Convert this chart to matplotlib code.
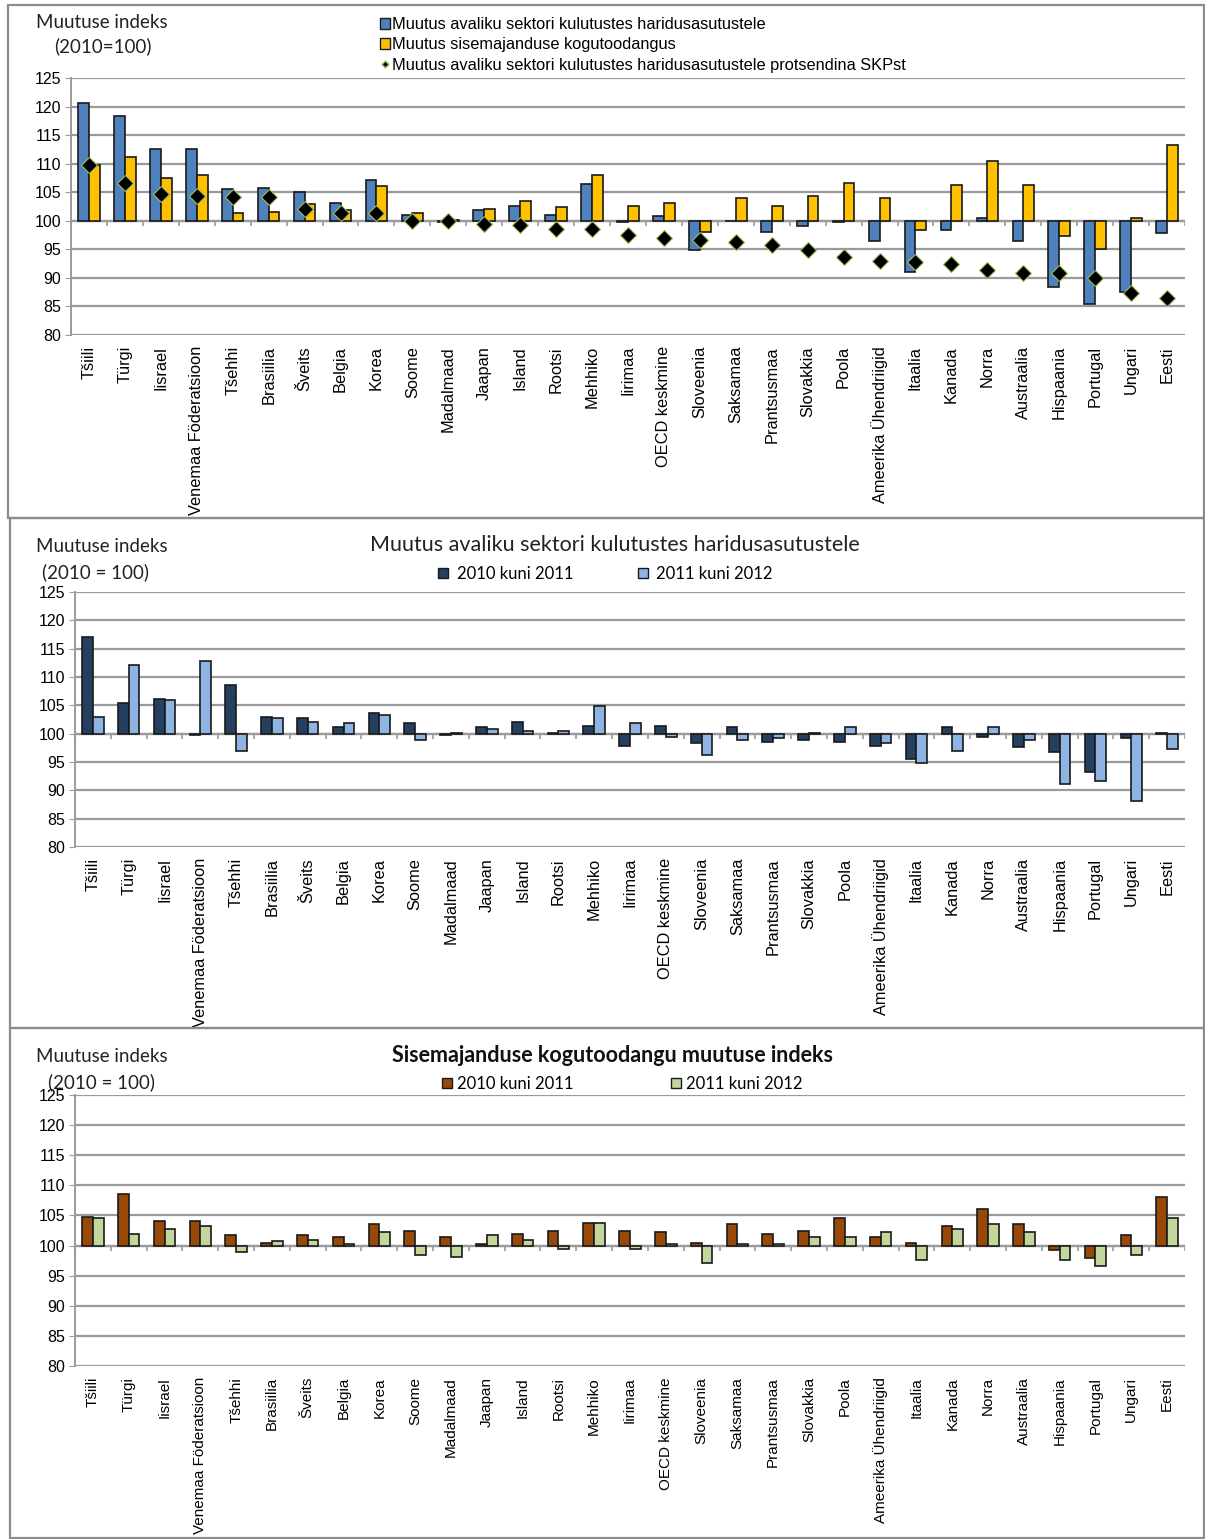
import matplotlib.pyplot as plt
from matplotlib.patches import Rectangle, Patch
from matplotlib.lines import Line2D
import numpy as np

# Riigid (kategooriad)
countries = ['Tšiili', 'Türgi', 'Iisrael', 'Venemaa Föderatsioon', 'Tšehhi', 'Brasiilia',
             'Šveits', 'Belgia', 'Korea', 'Soome', 'Madalmaad', 'Jaapan', 'Island', 'Rootsi',
             'Mehhiko', 'Iirimaa', 'OECD keskmine', 'Sloveenia', 'Saksamaa', 'Prantsusmaa',
             'Slovakkia', 'Poola', 'Ameerika Ühendriigid', 'Itaalia', 'Kanada', 'Norra',
             'Austraalia', 'Hispaania', 'Portugal', 'Ungari', 'Eesti']

# Paneel 1: muutus 2010-2012 (2010=100)
edu_change = [120.6, 118.4, 112.5, 112.5, 105.6, 105.8, 105.0, 103.2, 107.2, 101.0, 99.8,
              101.8, 102.6, 101.0, 106.4, 99.7, 100.8, 94.8, 100.0, 98.0, 99.1, 99.7,
              96.4, 91.0, 98.3, 100.5, 96.4, 88.4, 85.4, 87.6, 97.8]
gdp_change = [109.8, 111.2, 107.5, 108.0, 101.3, 101.5, 102.9, 101.8, 106.1, 101.3, 100.1,
              102.1, 103.4, 102.4, 108.0, 102.6, 103.2, 98.0, 104.0, 102.6, 104.4, 106.6,
              104.0, 98.3, 106.3, 110.4, 106.3, 97.3, 95.1, 100.4, 113.3]
edu_share_gdp = [109.8, 106.6, 104.7, 104.4, 104.2, 104.2, 102.0, 101.3, 101.3, 99.9, 99.9,
                 99.5, 99.2, 98.5, 98.5, 97.5, 97.0, 96.7, 96.2, 95.7, 94.9, 93.7,
                 93.0, 92.7, 92.5, 91.3, 90.8, 90.8, 89.9, 87.3, 86.4]

# Paneel 2: avaliku sektori kulutused haridusasutustele
edu_2011 = [117.0, 105.4, 106.2, 99.7, 108.6, 103.0, 102.7, 101.1, 103.7, 101.9, 99.7,
            101.1, 102.1, 100.2, 101.4, 97.8, 101.4, 98.3, 101.1, 98.6, 98.9, 98.6,
            97.8, 95.6, 101.1, 99.5, 97.6, 96.7, 93.2, 99.2, 100.2]
edu_2012 = [103.0, 112.2, 106.0, 112.8, 97.0, 102.7, 102.1, 101.9, 103.3, 98.9, 100.2,
            100.8, 100.5, 100.5, 104.9, 101.9, 99.5, 96.3, 98.9, 99.2, 100.2, 101.1,
            98.3, 94.8, 97.0, 101.1, 98.9, 91.1, 91.6, 88.1, 97.3]

# Paneel 3: sisemajanduse kogutoodang
gdp_2011 = [104.8, 108.6, 104.1, 104.1, 101.7, 100.4, 101.7, 101.5, 103.5, 102.5, 101.5,
            100.2, 102.0, 102.5, 103.8, 102.5, 102.2, 100.4, 103.5, 102.0, 102.5, 104.6,
            101.5, 100.4, 103.3, 106.1, 103.5, 99.2, 97.9, 101.7, 108.1]
gdp_2012 = [104.6, 102.0, 102.8, 103.3, 98.9, 100.7, 101.0, 100.2, 102.2, 98.4, 98.1,
            101.7, 101.0, 99.4, 103.8, 99.4, 100.2, 97.1, 100.2, 100.2, 101.5, 101.5,
            102.2, 97.6, 102.8, 103.5, 102.2, 97.6, 96.6, 98.4, 104.6]

W, H = 1205, 1539
fig = plt.figure(figsize=(W / 100, H / 100), dpi=100)

LABEL_FONT = 'Liberation Sans'
TITLE_FONT = 'Lato'
GRID = '#9a9a9a'


def box(x0, y0, x1, y1):
    return [x0 / W, 1 - y1 / H, (x1 - x0) / W, (y1 - y0) / H]


def setup_axes(ax, xlab_size=11.8):
    n = len(countries)
    x = np.arange(n)
    ax.set_xlim(-0.5, n - 0.5)
    ax.set_ylim(80, 125)
    ax.set_yticks(range(80, 126, 5))
    ax.yaxis.grid(True, color=GRID, linewidth=1.6)
    ax.set_axisbelow(True)
    for s in ['top', 'right', 'bottom']:
        ax.spines[s].set_visible(False)
    ax.spines['left'].set_color(GRID)
    ax.spines['left'].set_linewidth(1.4)
    ax.tick_params(axis='y', length=4, color=GRID, labelsize=11.5, pad=3)
    for lab in ax.get_yticklabels():
        lab.set_fontfamily(LABEL_FONT)
    ax.set_xticks(x)
    ax.set_xticklabels(countries, rotation=90, fontsize=xlab_size, family=LABEL_FONT)
    ax.tick_params(axis='x', length=0, pad=8)
    # telg 100 juures koos jaotusmärkidega
    ax.axhline(100, color=GRID, linewidth=1.6, zorder=1)
    ax.vlines(np.arange(n + 1) - 0.5, 99.1, 100, color=GRID, linewidth=1.2, zorder=1)
    return x


def bars(ax, x, a, b, ca, cb, w=0.3):
    ax.bar(x - w / 2, np.array(a) - 100, w, bottom=100, color=ca, edgecolor='#1a1a1a',
           linewidth=1.2, zorder=3)
    ax.bar(x + w / 2, np.array(b) - 100, w, bottom=100, color=cb, edgecolor='#1a1a1a',
           linewidth=1.2, zorder=3)


def side_label(y1, x2, y2, text2):
    fig.text(36 / W, 1 - y1 / H, 'Muutuse indeks', fontsize=13.5, family=TITLE_FONT,
             va='center', ha='left', color='#222222')
    fig.text(x2 / W, 1 - y2 / H, text2, fontsize=13.5, family=TITLE_FONT,
             va='center', ha='left', color='#222222')


# raamid
for (x0, y0, x1, y1) in [(8, 5, 1204, 518), (10, 518, 1204, 1028), (10, 1028, 1204, 1538)]:
    fig.patches.append(Rectangle((x0 / W, 1 - y1 / H), (x1 - x0) / W, (y1 - y0) / H,
                                 transform=fig.transFigure, fill=False,
                                 edgecolor='#8c8c8c', linewidth=1.6))

# ---------------- Paneel 1 ----------------
ax1 = fig.add_axes(box(71, 78, 1185, 335))
x = setup_axes(ax1)
bars(ax1, x, edu_change, gdp_change, '#4F81BD', '#FFC000')
ax1.plot(x, edu_share_gdp, linestyle='none', marker='D', markersize=8.5,
         color='black', markeredgecolor='#9BBB59', markeredgewidth=0.8, zorder=4)
side_label(22, 54, 46, '(2010=100)')
h1 = [Patch(facecolor='#4F81BD', edgecolor='#1a1a1a', linewidth=1),
      Patch(facecolor='#FFC000', edgecolor='#1a1a1a', linewidth=1),
      Line2D([], [], linestyle='none', marker='D', markersize=3.5, color='black',
             markeredgecolor='#9BBB59')]
l1 = ['Muutus avaliku sektori kulutustes haridusasutustele',
      'Muutus sisemajanduse kogutoodangus',
      'Muutus avaliku sektori kulutustes haridusasutustele protsendina SKPst']
fig.legend(h1, l1, loc='upper left', bbox_to_anchor=(372 / W, 1 - 9 / H), frameon=False,
           prop={'family': LABEL_FONT, 'size': 11.8}, handlelength=0.6, handleheight=0.6,
           handletextpad=0.15, labelspacing=0.32, borderpad=0)

# ---------------- Paneel 2 ----------------
ax2 = fig.add_axes(box(75, 592, 1185, 847))
x = setup_axes(ax2)
bars(ax2, x, edu_2011, edu_2012, '#243F60', '#8DB4E2')
side_label(547, 42, 572, '(2010 = 100)')
fig.text(615 / W, 1 - 545 / H, 'Muutus avaliku sektori kulutustes haridusasutustele',
         fontsize=15.5, family=TITLE_FONT, ha='center', va='center', color='#222222')
h2 = [Patch(facecolor='#243F60', edgecolor='#1a1a1a', linewidth=1),
      Patch(facecolor='#8DB4E2', edgecolor='#1a1a1a', linewidth=1)]
fig.legend(h2, ['2010 kuni 2011', '2011 kuni 2012'], loc='center left',
           bbox_to_anchor=(430 / W, 1 - 574 / H), frameon=False, ncol=2,
           prop={'family': TITLE_FONT, 'size': 12}, handlelength=0.6, handleheight=0.6,
           handletextpad=0.5, columnspacing=3.9, borderpad=0)

# ---------------- Paneel 3 ----------------
ax3 = fig.add_axes(box(75, 1095, 1185, 1366))
x = setup_axes(ax3, xlab_size=11)
bars(ax3, x, gdp_2011, gdp_2012, '#984807', '#C4D79B')
side_label(1057, 48, 1082, '(2010 = 100)')
fig.text(613 / W, 1 - 1055 / H, 'Sisemajanduse kogutoodangu muutuse indeks',
         fontsize=15.5, family=TITLE_FONT, fontweight='bold', ha='center', va='center',
         color='#111111')
h3 = [Patch(facecolor='#984807', edgecolor='#1a1a1a', linewidth=1),
      Patch(facecolor='#C4D79B', edgecolor='#1a1a1a', linewidth=1)]
fig.legend(h3, ['2010 kuni 2011', '2011 kuni 2012'], loc='center left',
           bbox_to_anchor=(434 / W, 1 - 1084 / H), frameon=False, ncol=2,
           prop={'family': TITLE_FONT, 'size': 12}, handlelength=0.6, handleheight=0.6,
           handletextpad=0.3, columnspacing=5.8, borderpad=0)

fig.savefig('out.png', dpi=100)
